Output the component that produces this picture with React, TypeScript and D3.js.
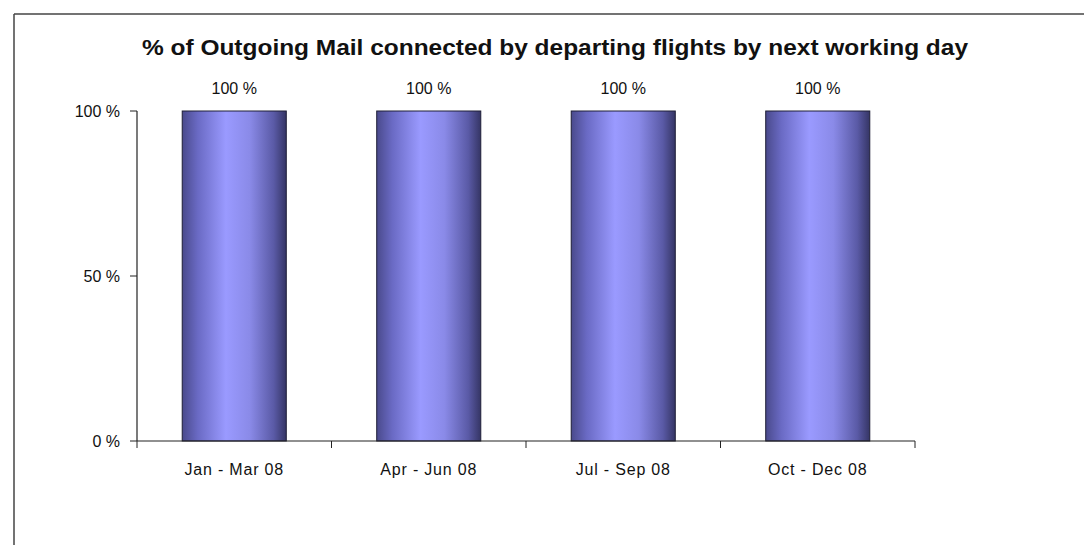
import React from "react";
import * as d3 from "d3";

const categories = ["Jan - Mar 08", "Apr - Jun 08", "Jul - Sep 08", "Oct - Dec 08"];
const values = [100, 100, 100, 100];
const yTicks = [0, 50, 100];
const title = "% of Outgoing Mail connected by departing flights by next working day";

const W = 1084, H = 545;
const plot = { left: 137, right: 915, top: 111, bottom: 441 };

export default function App() {
  const x = d3.scaleBand<string>().domain(categories).range([plot.left, plot.right]).paddingInner(0.465).paddingOuter(0.2325);
  const y = d3.scaleLinear().domain([0, 100]).range([plot.bottom, plot.top]);
  const step = (plot.right - plot.left) / categories.length;
  const font = "'Liberation Sans', Arial, sans-serif";
  return (
    <svg width={W} height={H} style={{ position: "absolute", left: 0, top: 0, background: "#fff" }} fontFamily={font}>
      <defs>
        <linearGradient id="barGrad" x1="0" x2="1" y1="0" y2="0">
          <stop offset="0%" stopColor="#4a4a8c" />
          <stop offset="15%" stopColor="#6a6ac4" />
          <stop offset="42%" stopColor="#9a9aff" />
          <stop offset="65%" stopColor="#8a8ae8" />
          <stop offset="88%" stopColor="#5a5aa6" />
          <stop offset="100%" stopColor="#353565" />
        </linearGradient>
      </defs>
      <line x1={14} y1={14} x2={W} y2={14} stroke="#444" strokeWidth={1.5} />
      <line x1={14} y1={14} x2={14} y2={H} stroke="#444" strokeWidth={1.5} />
      <text x={142} y={55} fontSize={22} fontWeight="bold" fill="#111" textLength={826} lengthAdjust="spacingAndGlyphs">{title}</text>
      {categories.map((c, i) => (
        <g key={c}>
          <rect x={x(c)!} y={y(values[i])} width={x.bandwidth()} height={y(0) - y(values[i])} fill="url(#barGrad)" stroke="#1e1e36" strokeWidth={1} />
          <text x={x(c)! + x.bandwidth() / 2} y={y(values[i]) - 17} textAnchor="middle" fontSize={16} fill="#111">{values[i]} %</text>
          <text x={x(c)! + x.bandwidth() / 2} y={plot.bottom + 34} textAnchor="middle" fontSize={16} fill="#111" letterSpacing={0.8}>{c}</text>
        </g>
      ))}
      <line x1={plot.left} y1={plot.top} x2={plot.left} y2={plot.bottom} stroke="#222" strokeWidth={1.2} />
      <line x1={plot.left} y1={plot.bottom} x2={plot.right} y2={plot.bottom} stroke="#222" strokeWidth={1.2} />
      {yTicks.map(t => (
        <g key={t}>
          <line x1={plot.left - 7} x2={plot.left} y1={y(t)} y2={y(t)} stroke="#222" />
          <text x={plot.left - 17} y={y(t) + 6} textAnchor="end" fontSize={16} fill="#111">{t} %</text>
        </g>
      ))}
      {d3.range(categories.length + 1).map(i => (
        <line key={i} x1={plot.left + i * step} x2={plot.left + i * step} y1={plot.bottom} y2={plot.bottom + 7} stroke="#222" />
      ))}
    </svg>
  );
}
